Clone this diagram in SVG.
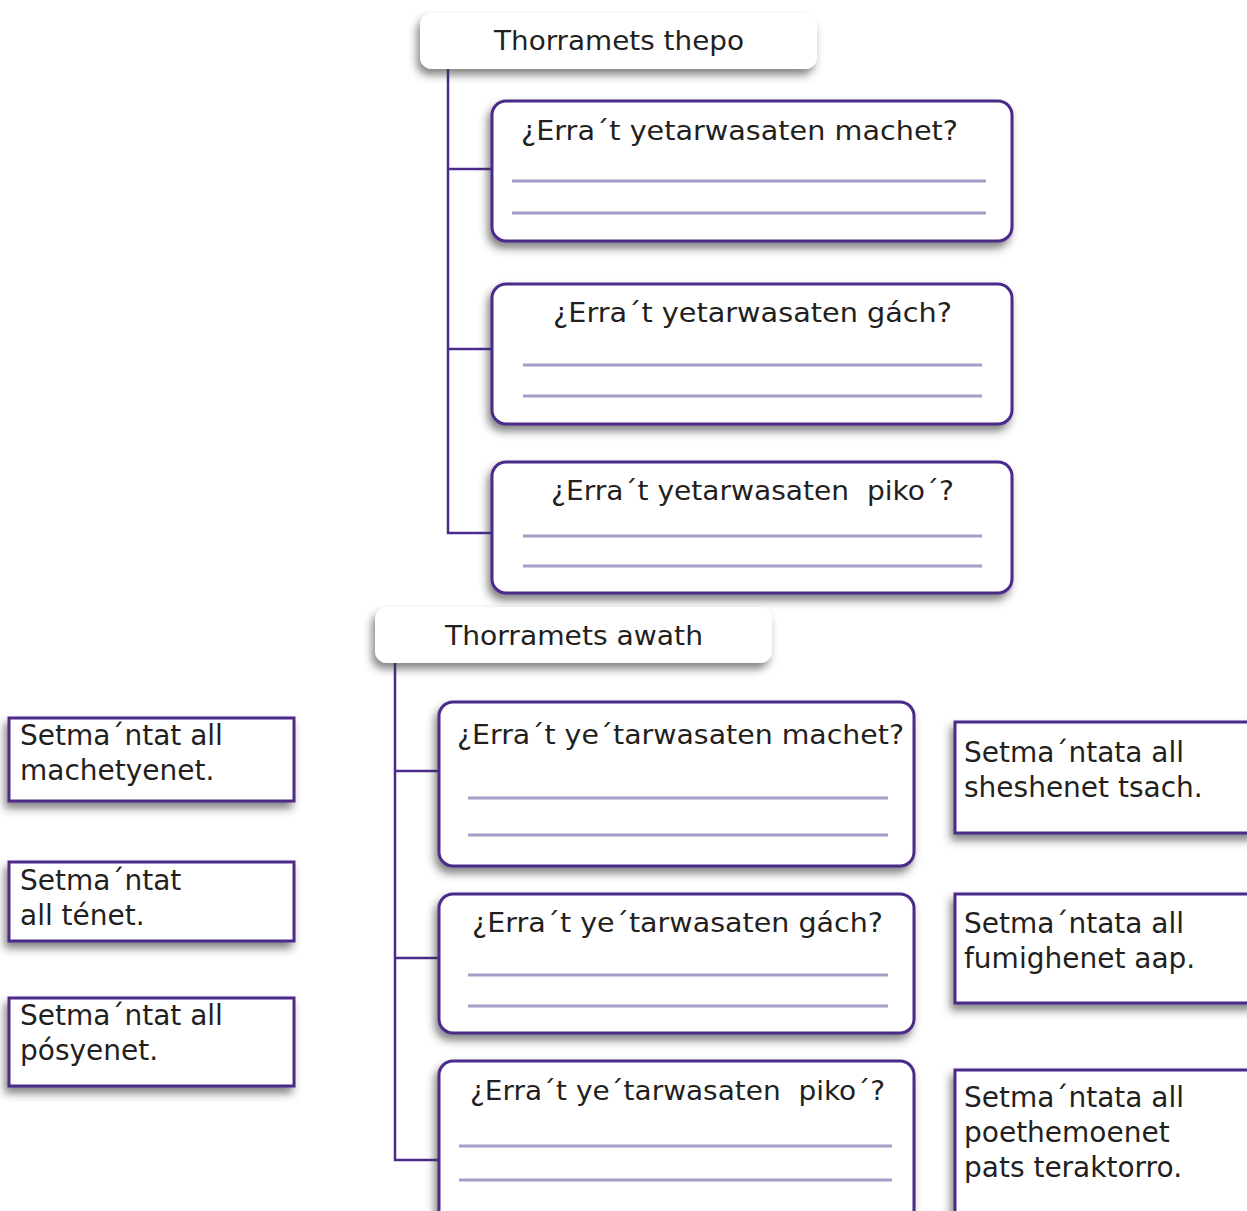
<svg xmlns="http://www.w3.org/2000/svg" width="1247" height="1211" viewBox="0 0 1247 1211">
<defs>
<filter id="sh" x="-10%" y="-20%" width="120%" height="150%">
<feDropShadow dx="-3" dy="6" stdDeviation="4" flood-color="#333" flood-opacity="0.6"/>
</filter>
</defs>
<style>
.hdr{fill:#fff;filter:url(#sh)}
.q{fill:#fff;stroke:#4b2a8a;stroke-width:3;filter:url(#sh)}
.sq{fill:#fff;stroke:#4b2a8a;stroke-width:3;filter:url(#sh)}
.ln{stroke:#a89cc8;stroke-width:3}
.c{fill:none;stroke:#4b2a8a;stroke-width:2.5}
text{font-family:"DejaVu Sans","Liberation Sans",sans-serif;font-size:27px;fill:#231f20}
.b{font-size:28px}
.m{text-anchor:middle}
</style>
<rect width="1247" height="1211" fill="#fff"/>
<g id="connectors">
<polyline class="c" points="448,69 448,533 492,533"/>
<line class="c" x1="448" y1="169" x2="492" y2="169"/>
<line class="c" x1="448" y1="349" x2="492" y2="349"/>
<polyline class="c" points="395,663 395,1160 439,1160"/>
<line class="c" x1="395" y1="771" x2="439" y2="771"/>
<line class="c" x1="395" y1="958" x2="439" y2="958"/>
</g>
<g id="header1">
<rect class="hdr" x="420" y="13" width="397" height="56" rx="12"/>
<text class="m" x="619" y="50" textLength="250" lengthAdjust="spacingAndGlyphs">Thorramets thepo</text>
</g>
<g id="q1">
<rect class="q" x="492" y="101" width="520" height="140" rx="14"/>
<text x="521" y="140" textLength="437" lengthAdjust="spacingAndGlyphs">¿Erra´t yetarwasaten machet?</text>
<line class="ln" x1="512" y1="181" x2="986" y2="181"/>
<line class="ln" x1="512" y1="213" x2="986" y2="213"/>
</g>
<g id="q2">
<rect class="q" x="492" y="284" width="520" height="140" rx="14"/>
<text x="553" y="322" textLength="399" lengthAdjust="spacingAndGlyphs">¿Erra´t yetarwasaten gách?</text>
<line class="ln" x1="523" y1="365" x2="982" y2="365"/>
<line class="ln" x1="523" y1="396" x2="982" y2="396"/>
</g>
<g id="q3">
<rect class="q" x="492" y="462" width="520" height="131" rx="14"/>
<text x="551" y="500" textLength="403" lengthAdjust="spacingAndGlyphs" xml:space="preserve">¿Erra´t yetarwasaten  piko´?</text>
<line class="ln" x1="523" y1="536" x2="982" y2="536"/>
<line class="ln" x1="523" y1="566" x2="982" y2="566"/>
</g>
<g id="header2">
<rect class="hdr" x="375" y="607" width="397" height="56" rx="12"/>
<text class="m" x="574" y="645" textLength="258" lengthAdjust="spacingAndGlyphs">Thorramets awath</text>
</g>
<g id="q4">
<rect class="q" x="439" y="702" width="475" height="164" rx="14"/>
<text x="457" y="744" textLength="447" lengthAdjust="spacingAndGlyphs">¿Erra´t ye´tarwasaten machet?</text>
<line class="ln" x1="468" y1="798" x2="888" y2="798"/>
<line class="ln" x1="468" y1="835" x2="888" y2="835"/>
</g>
<g id="q5">
<rect class="q" x="439" y="894" width="475" height="139" rx="14"/>
<text x="472" y="932" textLength="411" lengthAdjust="spacingAndGlyphs">¿Erra´t ye´tarwasaten gách?</text>
<line class="ln" x1="468" y1="975" x2="888" y2="975"/>
<line class="ln" x1="468" y1="1006" x2="888" y2="1006"/>
</g>
<g id="q6">
<rect class="q" x="439" y="1061" width="475" height="165" rx="14"/>
<text x="470" y="1100" textLength="415" lengthAdjust="spacingAndGlyphs" xml:space="preserve">¿Erra´t ye´tarwasaten  piko´?</text>
<line class="ln" x1="459" y1="1146" x2="892" y2="1146"/>
<line class="ln" x1="459" y1="1180" x2="892" y2="1180"/>
</g>
<g id="l1">
<rect class="sq" x="9" y="718" width="285" height="83"/>
<text class="b" x="20" y="745">Setma´ntat all</text>
<text class="b" x="20" y="780">machetyenet.</text>
</g>
<g id="l2">
<rect class="sq" x="9" y="862" width="285" height="79"/>
<text class="b" x="20" y="890">Setma´ntat</text>
<text class="b" x="20" y="925">all ténet.</text>
</g>
<g id="l3">
<rect class="sq" x="9" y="998" width="285" height="88"/>
<text class="b" x="20" y="1025">Setma´ntat all</text>
<text class="b" x="20" y="1060">pósyenet.</text>
</g>
<g id="r1">
<rect class="sq" x="955" y="722" width="300" height="111"/>
<text class="b" x="964" y="762">Setma´ntata all</text>
<text class="b" x="964" y="797">sheshenet tsach.</text>
</g>
<g id="r2">
<rect class="sq" x="955" y="894" width="300" height="109"/>
<text class="b" x="964" y="933">Setma´ntata all</text>
<text class="b" x="964" y="968">fumighenet aap.</text>
</g>
<g id="r3">
<rect class="sq" x="955" y="1070" width="300" height="160"/>
<text class="b" x="964" y="1107">Setma´ntata all</text>
<text class="b" x="964" y="1142">poethemoenet</text>
<text class="b" x="964" y="1177">pats teraktorro.</text>
</g>
</svg>
